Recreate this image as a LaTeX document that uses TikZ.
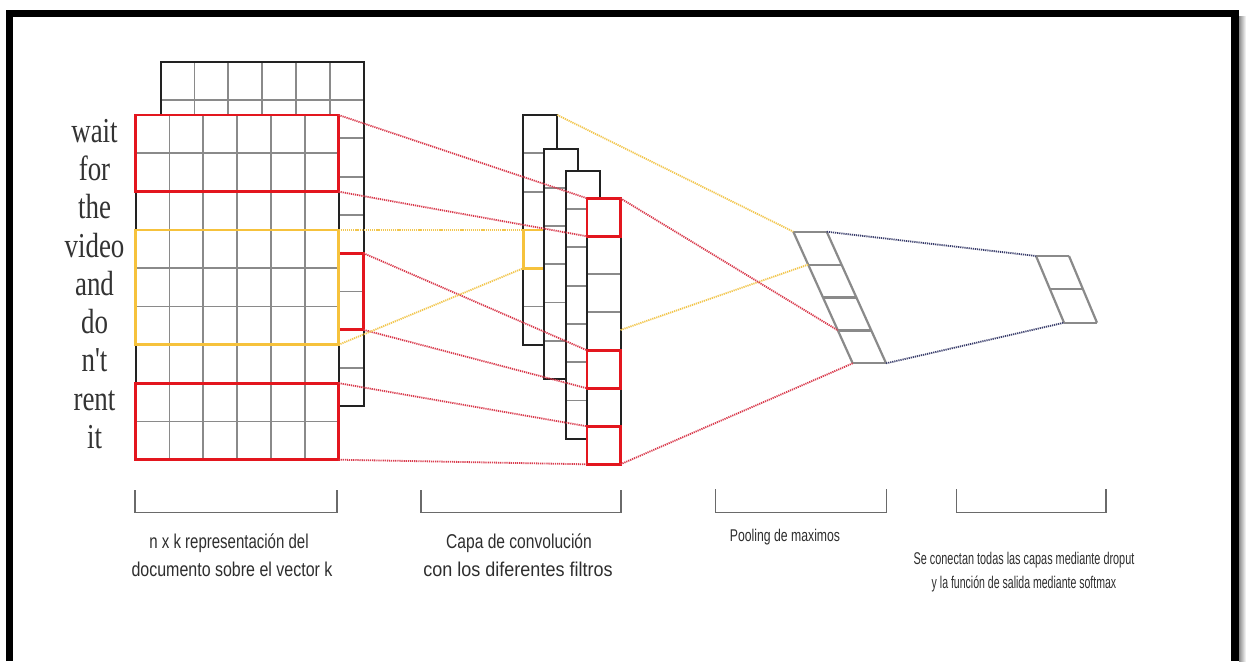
\documentclass[tikz,border=0pt]{standalone}
\usepackage{fontspec}
\setmainfont{Liberation Serif}
\newfontfamily\capsans{Liberation Sans}
\usepackage{graphicx}
\newcommand\hsqueeze[2]{\scalebox{#1}[1]{#2}}

\definecolor{gridgray}{HTML}{8A8A8A}
\definecolor{edgeblack}{HTML}{222222}
\definecolor{boxred}{HTML}{E3161E}
\definecolor{boxyellow}{HTML}{F6C23C}
\definecolor{dotred}{HTML}{D93A4C}
\definecolor{dotyellow}{HTML}{F2C64C}
\definecolor{dotnavy}{HTML}{3A3E6C}
\definecolor{bracketgray}{HTML}{6A6A6A}
\definecolor{wordgray}{HTML}{333333}
\definecolor{captiongray}{HTML}{2E2E2E}

\tikzset{
  innerline/.style={draw=gridgray, line width=1.8pt},
  outerline/.style={draw=edgeblack, line width=2pt},
  redbox/.style={draw=boxred, line width=2.8pt},
  yellowbox/.style={draw=boxyellow, line width=2.8pt},
  dotlink/.style={line width=1.8pt, dash pattern=on 1.2pt off 0.9pt},
  redlink/.style={dotlink, draw=dotred},
  yellowlink/.style={dotlink, draw=dotyellow},
  navylink/.style={dotlink, draw=dotnavy},
  slab/.style={draw=gridgray, line width=2.2pt},
  bracket/.style={draw=bracketgray, line width=1.5pt},
  word/.style={font=\fontsize{35}{35}\selectfont, text=wordgray, anchor=base, inner sep=0pt},
  caption/.style={font=\capsans\fontsize{20}{20}\selectfont, text=captiongray, anchor=base, inner sep=0pt},
  smallcaption/.style={font=\capsans\fontsize{17}{17}\selectfont, text=captiongray, anchor=base, inner sep=0pt},
}

\begin{document}
\begin{tikzpicture}[x=1pt, y=-1pt]
\useasboundingbox (0,0) rectangle (1246,661);
\fill[white] (0,0) rectangle (1246,661);

% ---- page frame with a soft shadow on the right
\shade[left color=black!45, right color=white] (1239,17) rectangle (1246,661);
\draw[line width=7.5pt, black, line join=miter] (9.6,661) -- (9.6,13.6) -- (1235,13.6) -- (1235,661);

\def\cw{33.8}
\def\ch{38.3}

% ---- embedding matrix, back copy
\fill[white] (160.7,61.7) rectangle ++(6*\cw,9*\ch);
\foreach \i in {1,...,5} \draw[innerline] ({160.7+\i*\cw},61.7) -- ++(0,9*\ch);
\foreach \j in {1,...,8} \draw[innerline] (160.7,{61.7+\j*\ch}) -- ++(6*\cw,0);
\draw[outerline] (160.7,61.7) rectangle ++(6*\cw,9*\ch);
\draw[redbox] (338.3,253.2) rectangle (363.5,329.8);
\coordinate (strip-ne) at (363.5,253.2);
\coordinate (strip-se) at (363.5,329.8);

% ---- embedding matrix, front copy
\fill[white] (135.7,115) rectangle ++(6*\cw,9*\ch);
\foreach \i in {1,...,5} \draw[innerline] ({135.7+\i*\cw},115) -- ++(0,9*\ch);
\foreach \j in {1,...,8} \draw[innerline] (135.7,{115+\j*\ch}) -- ++(6*\cw,0);
\draw[outerline] (135.7,115) rectangle ++(6*\cw,9*\ch);
\draw[redbox] (135.7,115) rectangle (338.5,191.6);
\draw[redbox] (135.7,383.1) rectangle (338.5,459.7);
\draw[yellowbox] (135.7,229.9) rectangle (338.5,344.8);
\coordinate (redA-ne) at (338.5,115);
\coordinate (redA-se) at (338.5,191.6);
\coordinate (yel-ne) at (338.5,229.9);
\coordinate (yel-se) at (338.5,344.8);
\coordinate (redB-ne) at (338.5,383.1);
\coordinate (redB-se) at (338.5,459.7);

% ---- words of the sentence, one per row
\foreach \w [count=\k from 0] in {wait,for,the,video,and,do,n\textquotesingle t,rent,it}
  \node[word] (word\k) at (94.5,{115+(\k+0.5)*\ch+8}) {\hsqueeze{0.77}{\w}};

% ---- convolution feature maps
\fill[white] (523.3,115) rectangle ++(34,6*\ch);
\foreach \j in {1,...,5} \draw[innerline] (523.3,{115+\j*\ch}) -- ++(34,0);
\draw[outerline] (523.3,115) rectangle ++(34,6*\ch);
\draw[yellowbox] (523.3,229.9) rectangle (557.3,268.2);
\coordinate (cA-ne) at (557.3,115);
\coordinate (cA-yn) at (523.3,229.9);
\coordinate (cA-ys) at (523.3,268.2);

\fill[white] (544.3,149.3) rectangle ++(34,6*\ch);
\foreach \j in {1,...,5} \draw[innerline] (544.3,{149.3+\j*\ch}) -- ++(34,0);
\draw[outerline] (544.3,149.3) rectangle ++(34,6*\ch);

\fill[white] (565.5,170.7) rectangle ++(34,7*\ch);
\foreach \j in {1,...,6} \draw[innerline] (565.5,{170.7+\j*\ch}) -- ++(34,0);
\draw[outerline] (565.5,170.7) rectangle ++(34,7*\ch);

\fill[white] (587,198.3) rectangle ++(33.5,7*38);
\foreach \j in {1,...,6} \draw[innerline] (587,{198.3+\j*38}) -- ++(33.5,0);
\draw[outerline] (587,198.3) rectangle ++(33.5,7*38);
\foreach \j in {0,4,6} \draw[redbox] (587,{198.3+\j*38}) rectangle ++(33.5,38);
\coordinate (cD0-nw) at (587,198.3);
\coordinate (cD0-sw) at (587,236.3);
\coordinate (cD4-nw) at (587,350.3);
\coordinate (cD4-sw) at (587,388.3);
\coordinate (cD6-nw) at (587,426.3);
\coordinate (cD6-sw) at (587,464.3);
\coordinate (cD-ne) at (620.5,198.3);
\coordinate (cD-se) at (620.5,464.3);
\coordinate (cD-mid) at (620.5,330);

% ---- max pooling column (slanted)
\foreach \k in {0,...,4} \draw[slab] ({793.3+14.85*\k},{231.7+32.9*\k}) -- ++(33.4,0);
\draw[slab] (793.3,231.7) -- ++(59.4,131.6);
\draw[slab] (826.7,231.7) -- ++(59.4,131.6);
\coordinate (p0) at (793.3,231.7);
\coordinate (p0e) at (826.7,231.7);
\coordinate (p1) at (808.15,264.6);
\coordinate (p3) at (837.85,330.4);
\coordinate (p4) at (852.7,363.3);
\coordinate (p4e) at (886.1,363.3);

% ---- output column (slanted)
\foreach \k in {0,1,2} \draw[slab] ({1036+14*\k},{256+33.35*\k}) -- ++(33,0);
\draw[slab] (1036,256) -- ++(28,66.7);
\draw[slab] (1069,256) -- ++(28,66.7);
\coordinate (o0) at (1036,256);
\coordinate (o2) at (1064,322.7);

% ---- dotted connections
\draw[redlink] (redA-ne) -- (cD0-nw);
\draw[redlink] (redA-se) -- (cD0-sw);
\draw[redlink] (strip-ne) -- (cD4-nw);
\draw[redlink] (strip-se) -- (cD4-sw);
\draw[redlink] (redB-ne) -- (cD6-nw);
\draw[redlink] (redB-se) -- (cD6-sw);
\draw[yellowlink] (yel-ne) -- (cA-yn);
\draw[yellowlink] (yel-se) -- (cA-ys);
\draw[yellowlink] (cA-ne) -- (p0);
\draw[yellowlink] (cD-mid) -- (p1);
\draw[redlink] (cD-ne) -- (p3);
\draw[redlink] (cD-se) -- (p4);
\draw[navylink] (p0e) -- (o0);
\draw[navylink] (p4e) -- (o2);

% ---- brackets and captions
\draw[bracket] (135,490) -- (135,512.7) -- (337,512.7) -- (337,490);
\draw[bracket] (421,490) -- (421,512.7) -- (621,512.7) -- (621,490);
\draw[bracket] (715.7,489.3) -- (715.7,512.7) -- (886.7,512.7) -- (886.7,489.3);
\draw[bracket] (956.7,489.3) -- (956.7,512.7) -- (1106,512.7) -- (1106,489.3);

\node[caption] (capA1) at (229,548) {\hsqueeze{0.75}{n x k representación del}};
\node[caption] (capA2) at (232,576) {\hsqueeze{0.80}{documento sobre el vector k}};
\node[caption] (capB1) at (519,548) {\hsqueeze{0.78}{Capa de convolución}};
\node[caption] (capB2) at (518,576) {\hsqueeze{0.90}{con los diferentes filtros}};
\node[smallcaption] (capC) at (785,541) {\hsqueeze{0.72}{Pooling de maximos}};
\node[smallcaption] (capD1) at (1024,564) {\hsqueeze{0.64}{Se conectan todas las capas mediante droput}};
\node[smallcaption] (capD2) at (1024,588) {\hsqueeze{0.62}{y la función de salida mediante softmax}};
\end{tikzpicture}
\end{document}
